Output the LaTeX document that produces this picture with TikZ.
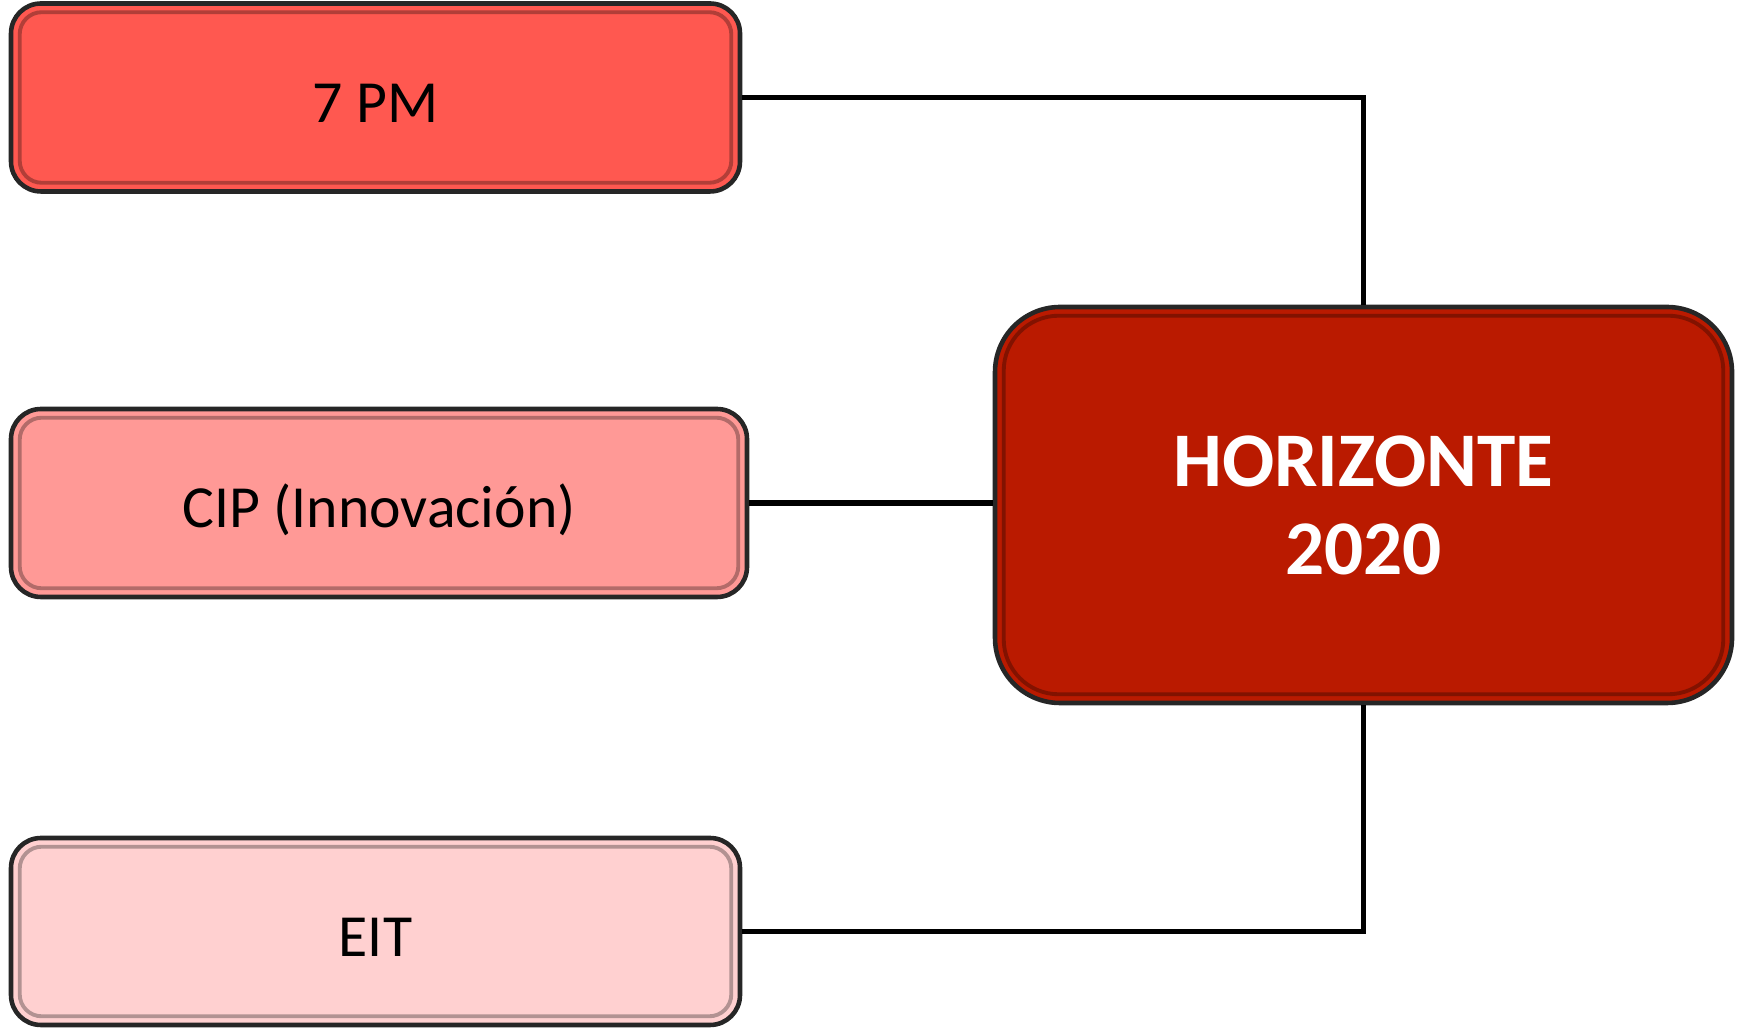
\documentclass[tikz,border=0pt]{standalone}
\usepackage{fontspec}
\setmainfont{Carlito}
\usepackage{xcolor}
\usepackage{tikz}
\usetikzlibrary{positioning,calc}
\definecolor{pmred}{HTML}{FF5850}
\definecolor{cippink}{HTML}{FF9996}
\definecolor{eitpink}{HTML}{FFD0D0}
\definecolor{hzred}{HTML}{BA1A00}
\tikzset{
  prog/.style={draw=black!85, line width=1.3pt, rounded corners=0.3cm, align=center,
    minimum width=7.29cm, minimum height=1.88cm, inner sep=0pt,
    text height=0.6cm, text depth=0.1cm,
    font=\fontsize{17}{20}\selectfont},
  main/.style={draw=black!85, line width=1.3pt, rounded corners=0.65cm, align=center,
    minimum width=7.37cm, minimum height=3.96cm, inner sep=0pt, text=white,
    font=\bfseries\fontsize{22}{25}\selectfont},
  bevel/.style={line width=1.1pt, rounded corners=#1},
  link/.style={draw=black, line width=1.5pt},
}
\begin{document}
\begin{tikzpicture}
\useasboundingbox (0,0) rectangle (17.44,10.28);
\node[prog, fill=pmred] (pm) at (3.755,9.305) {7 PM};
\node[prog, fill=cippink, minimum width=7.36cm] (cip) at (3.79,5.25) {CIP (Innovación)};
\node[prog, fill=eitpink, minimum height=1.87cm] (eit) at (3.755,0.965) {EIT};
\node[main, fill=hzred] (hz) at (13.635,5.23) {HORIZONTE\\2020};
% borde interior
\foreach \n/\c/\r in {pm/pmred/0.22cm, cip/cippink/0.22cm, eit/eitpink/0.22cm, hz/hzred/0.55cm}
  \draw[bevel=\r, draw=\c!70!black]
    ([shift={(0.11,-0.11)}]\n.north west) rectangle ([shift={(-0.11,0.11)}]\n.south east);
% conectores
\draw[link] (pm.east) -| (hz.north);
\draw[link] (cip.east) -- (cip.east -| hz.west);
\draw[link] (eit.east) -| (hz.south);
\end{tikzpicture}
\end{document}
